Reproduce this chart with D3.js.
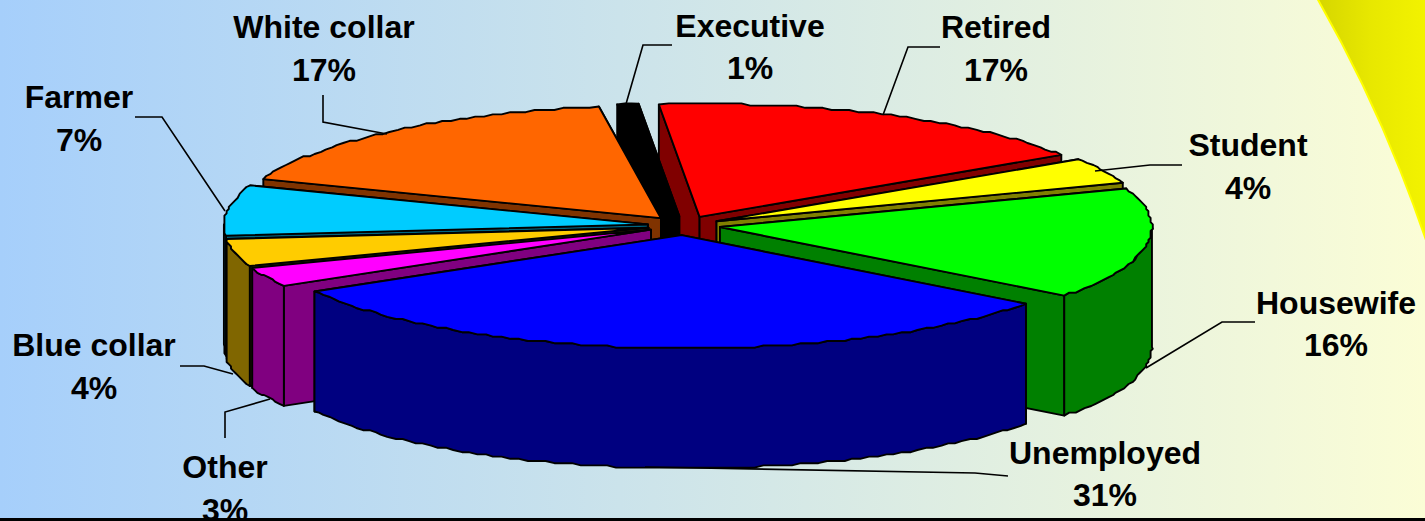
<!DOCTYPE html>
<html><head><meta charset="utf-8">
<style>html,body{margin:0;padding:0;background:#fff}svg{display:block}</style>
<script src="https://cdn.jsdelivr.net/npm/d3@7/dist/d3.min.js"></script>
</head><body><svg id="c" width="1425" height="521"></svg>
<script>
// ---- data ----
const categories = ["Retired","Student","Housewife","Unemployed","Other","Blue collar","Farmer","White collar","Executive"];
// shares; the labels show them rounded
const values = [17.4,3.7,15.9,31.3,2.8,3.9,7.2,16.9,0.8];
const topColors = ["#ff0000","#ffff00","#00ff00","#0000ff","#ff00ff","#ffcc00","#00ccff","#ff6600","#000000"];
const sideColors = ["#800000","#808000","#008000","#000080","#800080","#806600","#006680","#803300","#000000"];
const drawOrder = ["Retired","Executive","White collar","Farmer","Blue collar","Other","Student","Housewife","Unemployed"];

// ---- layout ----
const W=1425,H=521;
const labelLayout = {
 "Retired":{x:996,y:[38,81],leader:[[940,47],[908,47],[883,115]]},
 "Student":{x:1248,y:[156,199],leader:[[1182,165],[1150,165],[1095,171]]},
 "Housewife":{x:1336,y:[314,356],leader:[[1255,322],[1222,322],[1146,368]]},
 "Unemployed":{x:1105,y:[464,506],leader:[[1008,476],[975,473],[645,467]]},
 "Other":{x:225,y:[478,521],leader:[[225,438],[225,412],[270,399]]},
 "Blue collar":{x:94,y:[356,399],leader:[[180,366],[204,366],[233,374]]},
 "Farmer":{x:79,y:[108,151],leader:[[135,117],[162,117],[225,211]]},
 "White collar":{x:324,y:[38,81],leader:[[323,95],[323,122],[387,134]]},
 "Executive":{x:750,y:[37,79],leader:[[672,45],[643,45],[626,104]]}
};
const cx=688,cy=225.6,rx=428,ry=113,depth=120,explode=0.085,apexShift=-4;
const sx=d3.scaleLinear().domain([-1,1]).range([cx-rx,cx+rx]);
const sy=d3.scaleLinear().domain([-1,1]).range([cy-ry,cy+ry]);

const svg=d3.select("#c");
const defs=svg.append("defs");
const bg=defs.append("linearGradient").attr("id","bg");
bg.append("stop").attr("offset",0).attr("stop-color","#a6cffb");
bg.append("stop").attr("offset",1).attr("stop-color","#fbfdd6");
const yg=defs.append("linearGradient").attr("id","yg");
yg.append("stop").attr("offset",0).attr("stop-color","#d6d600");
yg.append("stop").attr("offset",0.5).attr("stop-color","#e8e800");
yg.append("stop").attr("offset",1).attr("stop-color","#f3f300");

svg.append("rect").attr("width",W).attr("height",H).attr("fill","url(#bg)");
svg.append("path")
 .attr("d","M1317,-2 Q1366,84 1400,170 Q1414,205 1427,243 L1427,-2 Z")
 .attr("fill","url(#yg)").attr("stroke","#ffff00").attr("stroke-width",2);

const pie=d3.pie().sort(null).value(d=>d.value)
  .startAngle(-6*Math.PI/180).endAngle(354*Math.PI/180);
const slices=pie(categories.map((c,i)=>({name:c,value:values[i],top:topColors[i],side:sideColors[i]})));

const line=d3.line().x(d=>d[0]).y(d=>d[1]);
const snap=v=>Math.round(v/2.2)*2.2;
const STEP=Math.PI/144;
function arcPoints(ox,oy,a0,a1){
  const n=Math.max(2,Math.ceil((a1-a0)/STEP));
  return d3.range(n+1).map(i=>{
    const a=a0+(a1-a0)*i/n;
    const p=[sx(ox+Math.sin(a)),sy(oy-Math.cos(a))];
    return (i===0||i===n)?p:[snap(p[0]),snap(p[1])];
  });
}
function geom(s){
  const mid=(s.startAngle+s.endAngle)/2;
  const ox=Math.sin(mid)*explode, oy=-Math.cos(mid)*explode;
  const apex=[sx(ox)+apexShift,sy(oy)];
  const arc=arcPoints(ox,oy,s.startAngle,s.endAngle);
  // only the front half of the rim shows a wall
  const f0=Math.max(s.startAngle,Math.PI/2), f1=Math.min(s.endAngle,3*Math.PI/2);
  const front=f1>f0?arcPoints(ox,oy,f0,f1):null;
  return {apex,arc,front};
}
const down=p=>[p[0],p[1]+depth];
const byName=new Map(slices.map(s=>[s.data.name,s]));
const pieG=svg.append("g").attr("stroke","#000").attr("stroke-width",1.9).attr("stroke-linejoin","round");

drawOrder.forEach(name=>{
  const s=byName.get(name), g=geom(s), d=s.data;
  const G=pieG.append("g").attr("class","slice");
  const first=g.arc[0], last=g.arc[g.arc.length-1];
  const radial=[first,last].sort((a,b)=>a[1]-b[1])
    .map(p=>[g.apex,p,down(p),down(g.apex)]);
  const walls=radial.slice();
  if(g.front) walls.push(g.front.concat(g.front.slice().reverse().map(down)));
  G.selectAll("path.wall").data(walls).join("path").attr("class","wall")
    .attr("d",p=>line(p)+"Z").attr("fill",d.side);
  G.append("path").attr("class","top")
    .attr("d",line([g.apex].concat(g.arc))+"Z").attr("fill",d.top);
});

// ---- leaders and labels ----
const lab=svg.append("g");
categories.forEach((c,i)=>{
  const L=labelLayout[c];
  lab.append("path").attr("d",line(L.leader)).attr("fill","none").attr("stroke","#000").attr("stroke-width",1.6);
  lab.append("text").attr("x",L.x).attr("y",L.y[0]).text(c);
  lab.append("text").attr("x",L.x).attr("y",L.y[1]).text(Math.round(values[i])+"%");
});
lab.selectAll("text").attr("text-anchor","middle")
  .attr("font-family","'Liberation Sans',Arial,sans-serif")
  .attr("font-weight","bold").attr("font-size",32).attr("fill","#000");

svg.append("rect").attr("x",0).attr("y",518).attr("width",W).attr("height",3).attr("fill","#000");
</script></body></html>
